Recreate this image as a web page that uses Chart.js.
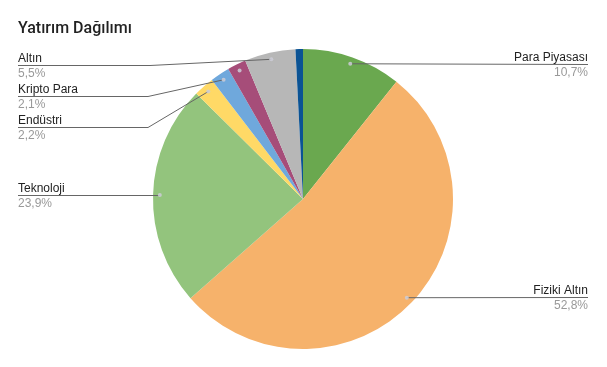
<!DOCTYPE html>
<html lang="tr">
<head>
    <meta charset="UTF-8">
    <title>Yatırım Dağılımı</title>
    <script src="https://cdn.jsdelivr.net/npm/chart.js"></script>
    <style>
        body { margin: 0; background: #fff; }
        #wrap { position: relative; width: 607px; height: 367px; }
        #title { position: absolute; left: 18px; top: 18px; font: 500 16px Roboto, sans-serif; color: #222; }
    </style>
</head>
<body>
<div id="wrap">
    <canvas id="pieChart" width="607" height="367"></canvas>
    <div id="title">Yatırım Dağılımı</div>
</div>
<script>
    // values (percent)
    const categories = ['Para Piyasası', 'Fiziki Altın', 'Teknoloji', 'Endüstri', 'Kripto Para', 'Gümüş', 'Altın', 'Nakit'];
    const values = [10.7, 52.8, 23.9, 2.2, 2.1, 2.0, 5.5, 0.8];
    const colors = ['#6aa84f', '#f6b26b', '#93c47d', '#ffd966', '#6fa8dc', '#a64d79', '#b7b7b7', '#0b5394'];

    // where each label sits (line y, side, bend x); slices not listed get no label
    const labelSpots = {
        'Para Piyasası': { side: 'right', y: 64.5 },
        'Fiziki Altın': { side: 'right', y: 297.5 },
        'Teknoloji': { side: 'left', y: 195.5 },
        'Endüstri': { side: 'left', y: 127.5, bend: 148 },
        'Kripto Para': { side: 'left', y: 96.5, bend: 148 },
        'Altın': { side: 'left', y: 65.5, bend: 150 }
    };

    const fmt = v => v.toFixed(1).replace('.', ',') + '%';

    const leaderLabels = {
        id: 'leaderLabels',
        afterDraw(chart) {
            const ctx = chart.ctx;
            const meta = chart.getDatasetMeta(0);
            const total = values.reduce((a, b) => a + b, 0);
            ctx.save();
            meta.data.forEach((arc, i) => {
                const mid = (arc.startAngle + arc.endAngle) / 2;
                const r = arc.outerRadius * 0.955;
                const ax = arc.x + Math.cos(mid) * r;
                const ay = arc.y + Math.sin(mid) * r;
                const spot = labelSpots[categories[i]];
                if (!spot && values[i] < 1.5) return;

                if (spot) {
                    ctx.strokeStyle = '#666';
                    ctx.lineWidth = 1;
                    ctx.beginPath();
                    if (spot.side === 'left') {
                        ctx.moveTo(18, spot.y);
                        if (spot.bend) ctx.lineTo(spot.bend, spot.y);
                        ctx.lineTo(ax, spot.bend ? ay : spot.y);
                    } else {
                        ctx.moveTo(ax, ay);
                        ctx.lineTo(588, spot.y);
                    }
                    ctx.stroke();

                    ctx.font = '12px Arial, "Liberation Sans", sans-serif';
                    ctx.textAlign = spot.side === 'left' ? 'left' : 'right';
                    const tx = spot.side === 'left' ? 18 : 588;
                    ctx.fillStyle = '#222';
                    ctx.fillText(categories[i], tx, spot.y - 4);
                    ctx.fillStyle = '#999';
                    ctx.fillText(fmt(values[i] / total * 100), tx, spot.y + 11.5);
                }

                ctx.fillStyle = 'rgba(205,205,215,0.85)';
                ctx.beginPath();
                ctx.arc(ax, ay, 2, 0, Math.PI * 2);
                ctx.fill();
            });
            ctx.restore();
        }
    };

    new Chart(document.getElementById('pieChart'), {
        type: 'pie',
        data: {
            labels: categories,
            datasets: [{
                data: values,
                backgroundColor: colors,
                borderWidth: 0
            }]
        },
        options: {
            responsive: false,
            animation: false,
            layout: { padding: { top: 49, bottom: 18, left: 153, right: 154 } },
            plugins: {
                legend: { display: false },
                tooltip: { enabled: false }
            }
        },
        plugins: [leaderLabels]
    });
</script>
</body>
</html>
